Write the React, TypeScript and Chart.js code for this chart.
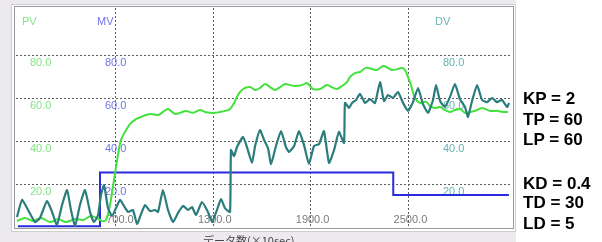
import React, { useEffect, useRef } from "react";
import { Chart, registerables } from "chart.js";

Chart.register(...registerables);

// ---- data ----
const pvX = [101, 150, 199, 248, 304, 353, 402, 457, 506, 555, 592, 622, 647, 671, 696, 720, 739, 770, 800, 831, 862, 892, 923, 966, 996, 1027, 1070, 1101, 1137, 1180, 1223, 1254, 1284, 1315, 1346, 1376, 1407, 1432, 1456, 1487, 1530, 1561, 1591, 1622, 1652, 1683, 1714, 1744, 1775, 1806, 1849, 1879, 1916, 1959, 2002, 2039, 2063, 2094, 2124, 2143, 2173, 2204, 2241, 2278, 2308, 2345, 2376, 2400, 2437, 2462, 2480, 2498, 2517, 2541, 2572, 2609, 2633, 2664, 2695, 2725, 2756, 2786, 2817, 2848, 2878, 2909, 2952, 3001, 3050, 3081, 3111];
const pvY = [2.8, 4.2, 2.8, 4.2, 2.3, 3.7, 2.3, 3.7, 3.3, 5.1, 4.2, 2.8, 3.3, 10.2, 21.9, 33.5, 40.5, 45.1, 48.4, 50.2, 51.2, 52.1, 52.6, 52.1, 53.5, 54.9, 52.6, 53.1, 54, 53.1, 54.4, 53.5, 53.1, 53.1, 53.5, 54, 54.9, 57.7, 61.4, 64.2, 65.1, 63.7, 64.7, 66.5, 65.1, 63.7, 65.1, 66.5, 66, 65.6, 66, 67, 64.2, 64.2, 66, 64.7, 64.2, 65.6, 67.4, 69.8, 71.6, 72.1, 74, 73.5, 73, 74.9, 74, 73, 73.5, 74, 73, 69.8, 66, 60, 57.7, 58.2, 56.3, 55.4, 55.8, 54.4, 53.5, 54.4, 54.9, 53.1, 53.5, 54, 55.4, 54, 54, 53.5, 53.5];

const dvX = [101, 132, 169, 212, 242, 285, 316, 346, 377, 408, 432, 457, 487, 518, 549, 573, 598, 616, 635, 659, 684, 708, 733, 757, 782, 812, 837, 862, 886, 917, 947, 966, 996, 1027, 1058, 1088, 1119, 1150, 1174, 1199, 1235, 1272, 1297, 1327, 1352, 1376, 1407, 1413, 1432, 1450, 1487, 1511, 1542, 1561, 1591, 1616, 1640, 1659, 1689, 1720, 1750, 1769, 1800, 1830, 1861, 1891, 1922, 1953, 1983, 2014, 2045, 2075, 2106, 2112, 2137, 2155, 2180, 2204, 2235, 2265, 2296, 2327, 2351, 2376, 2406, 2437, 2468, 2498, 2529, 2560, 2590, 2621, 2652, 2670, 2695, 2725, 2756, 2786, 2817, 2848, 2866, 2891, 2922, 2952, 2983, 3014, 3044, 3075, 3106, 3118];
const dvY = [4.6, 12.6, 7.9, 2.3, 4.2, 12.1, 7, 0.9, 10.2, 17.2, 7.9, 0.5, 10.2, 17.2, 7, 2.3, 5.6, 14.9, 19.5, 8.8, 5.1, 8.8, 12.6, 9.8, 7, 7.9, 1.4, 6.1, 10.2, 7.4, 7.9, 7, 17.2, 7.9, 2.3, 6.5, 9.8, 7.9, 9.3, 5.6, 11.6, 7, 2.3, 7.9, 13, 8.8, 7, 35.8, 33, 37.2, 41.9, 37.2, 29.8, 37.7, 45.1, 40.5, 36.7, 29.3, 37.7, 44.6, 37.2, 34.9, 37.7, 44.6, 38.1, 29.3, 37.7, 38.6, 44.6, 29.8, 35.8, 44.2, 39.1, 57.7, 55.4, 57.7, 59.1, 61.9, 57.7, 59.5, 57.7, 67.4, 58.6, 61.4, 60, 62.8, 57.7, 54, 58.1, 64.6, 57.2, 53.1, 59.1, 66, 58.6, 55.8, 60.5, 66.5, 59.5, 55.8, 51.2, 58.6, 66, 59.1, 58.1, 60, 58.1, 59.1, 55.8, 57.7];

const mvX = [107, 610, 2408, 3117];
const mvY = [0.3, 25.3, 14.9, 14.9];

const yTicks = [20, 40, 60, 80];
const xTicks = [700, 1300, 1900, 2500];
const seriesNames = ["PV", "MV", "DV"];
const xTitle = "データ数(×10sec)";
const params = [
  { text: "KP = 2", cy: 99 },
  { text: "TP = 60", cy: 119.5 },
  { text: "LP = 60", cy: 140 },
  { text: "KD = 0.4", cy: 183.5 },
  { text: "TD = 30", cy: 203 },
  { text: "LD = 5", cy: 223.5 },
];

const PV_COLOR = "#42e23e";
const MV_COLOR = "#2a2ade";
const DV_COLOR = "#2b7d7d";
const PV_LABEL = "#86e486";
const MV_LABEL = "#7474e6";
const DV_LABEL = "#68b2b4";

const LABEL_FONT = "11px 'Liberation Sans', Arial, sans-serif";

const toPts = (xs: number[], ys: number[]) => xs.map((x, i) => ({ x, y: ys[i] }));

const framePlugin = {
  id: "frame",
  beforeDraw(chart: any) {
    const ctx = chart.ctx as CanvasRenderingContext2D;
    ctx.save();
    ctx.fillStyle = "#ffffff";
    ctx.fillRect(0, 0, 602, 242);
    ctx.fillStyle = "#ECE9EF";
    ctx.fillRect(0, 0, 516, 242);
    ctx.fillStyle = "#ffffff";
    ctx.fillRect(12, 5, 503, 226);
    ctx.lineWidth = 1;
    ctx.strokeStyle = "#cfcdd2";
    ctx.strokeRect(11.5, 4.5, 504, 227);
    ctx.strokeStyle = "#9a9a9a";
    ctx.strokeRect(14.5, 6.5, 499, 222);
    // bottom title (clipped by canvas edge)
    ctx.fillStyle = "#444";
    ctx.font = "11px 'Noto Sans CJK JP', sans-serif";
    ctx.textAlign = "left";
    ctx.textBaseline = "top";
    ctx.fillText(xTitle, 203, 235);
    ctx.restore();
  },
  beforeDatasetsDraw(chart: any) {
    const ctx = chart.ctx as CanvasRenderingContext2D;
    const xs = chart.scales.x;
    const ys = chart.scales.y;
    const a = chart.chartArea;
    ctx.save();
    ctx.strokeStyle = "#5e5e5e";
    ctx.lineWidth = 1;
    ctx.setLineDash([2, 2]);
    yTicks.forEach((v) => {
      const py = Math.round(ys.getPixelForValue(v)) + 0.5;
      ctx.beginPath();
      ctx.moveTo(a.left, py);
      ctx.lineTo(a.right, py);
      ctx.stroke();
    });
    xTicks.forEach((v) => {
      const px = Math.round(xs.getPixelForValue(v)) + 0.5;
      ctx.beginPath();
      ctx.moveTo(px, a.top);
      ctx.lineTo(px, a.bottom);
      ctx.stroke();
    });
    ctx.setLineDash([]);
    ctx.font = LABEL_FONT;
    ctx.textBaseline = "middle";
    const cols = [
      { x: 30, color: PV_LABEL },
      { x: 105, color: MV_LABEL },
      { x: 443, color: DV_LABEL },
    ];
    cols.forEach((c, i) => {
      ctx.fillStyle = c.color;
      ctx.textAlign = "left";
      ctx.fillText(seriesNames[i], c.x - 8, 22);
      yTicks.forEach((v) => {
        const py = ys.getPixelForValue(v);
        ctx.fillText(v.toFixed(1), c.x, py + 7.5);
      });
    });
    ctx.fillStyle = "#7a7a7a";
    ctx.textAlign = "right";
    xTicks.forEach((v) => {
      const px = xs.getPixelForValue(v);
      ctx.fillText(v.toFixed(1), px + 19, 219.5);
    });
    ctx.restore();
  },
};

export default function App() {
  const ref = useRef<HTMLCanvasElement | null>(null);
  useEffect(() => {
    if (!ref.current) return;
    const chart = new Chart(ref.current, {
      type: "line",
      data: {
        datasets: [
          {
            label: "DV",
            data: toPts(dvX, dvY),
            borderColor: DV_COLOR,
            borderWidth: 2.2,
            tension: 0.15,
            pointRadius: 0,
          },
          {
            label: "PV",
            data: toPts(pvX, pvY),
            borderColor: PV_COLOR,
            borderWidth: 2,
            tension: 0.3,
            pointRadius: 0,
          },
          {
            label: "MV",
            data: toPts(mvX, mvY),
            borderColor: MV_COLOR,
            borderWidth: 2,
            stepped: true,
            pointRadius: 0,
          },
        ],
      },
      options: {
        animation: false,
        responsive: false,
        layout: { padding: { left: 16, top: 8, right: 90, bottom: 14 } },
        plugins: { legend: { display: false }, tooltip: { enabled: false } },
        scales: {
          x: { type: "linear", display: false, min: 95, max: 3136 },
          y: { type: "linear", display: false, min: -0.46, max: 101.86 },
        },
      },
      plugins: [framePlugin],
    });
    return () => chart.destroy();
  }, []);

  return (
    <div style={{ position: "fixed", left: 0, top: 0, width: 602, height: 242, overflow: "hidden", background: "#fff" }}>
      <canvas ref={ref} width={602} height={242} style={{ display: "block", width: 602, height: 242 }} />
      {params.map((p) => (
        <div
          key={p.text}
          style={{
            position: "absolute",
            left: 523,
            top: p.cy - 9.8,
            height: 20,
            lineHeight: "20px",
            font: "bold 17px 'Liberation Sans', Arial, sans-serif",
            color: "#000",
            whiteSpace: "nowrap",
          }}
        >
          {p.text}
        </div>
      ))}
    </div>
  );
}
